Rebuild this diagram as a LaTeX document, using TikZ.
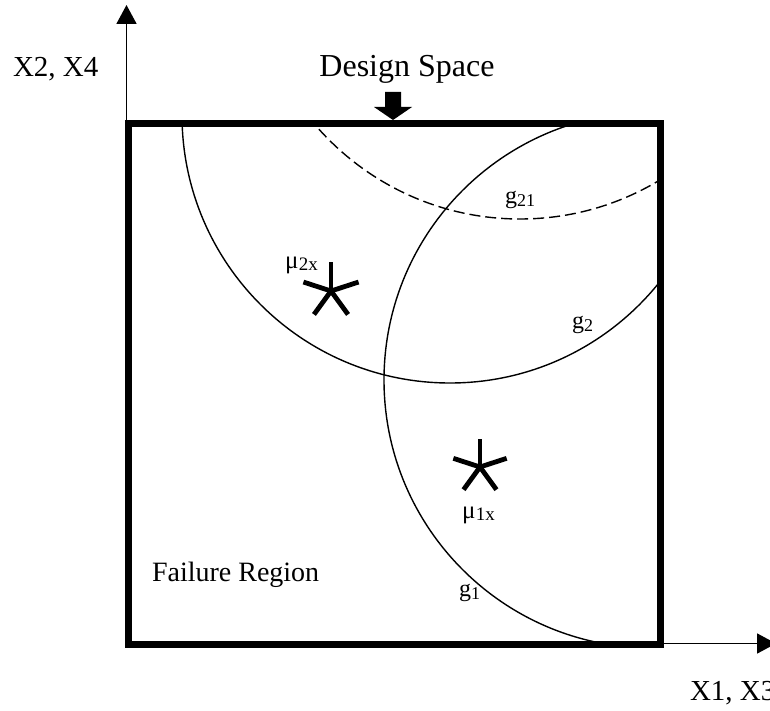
\documentclass[tikz,border=0pt]{standalone}
\usepackage{fontspec}
\setmainfont{Liberation Serif}
\usetikzlibrary{arrows.meta}
\newcommand{\glab}[1]{\fontsize{24}{24}\selectfont g\raisebox{-3pt}{\fontsize{18}{18}\selectfont #1}}
\newcommand{\mulab}[1]{\fontsize{25}{25}\selectfont μ\kern0.5pt\raisebox{-2pt}{\fontsize{19}{19}\selectfont #1}}
\begin{document}
\begin{tikzpicture}[x=1pt,y=-1pt,
  boxline/.style={line width=7pt, line join=miter},
  axisline/.style={line width=1.8pt, -{Triangle[width=20pt,length=19pt]}},
  curveline/.style={line width=1.4pt},
  dashline/.style={line width=1.4pt, dash pattern=on 11pt off 5pt},
  starline/.style={line width=4.8pt},
  txt/.style={inner sep=0pt, outer sep=0pt}]
\useasboundingbox (0,0) rectangle (770,711);
% axes
\coordinate (O) at (126.5,644);
\coordinate (Ytip) at (126.5,5);
\coordinate (Ox) at (128,643.5);
\coordinate (Xtip) at (776,643.5);
\draw[axisline] (O) -- (Ytip);
\draw[axisline] (Ox) -- (Xtip);
% curves clipped to the design space
\begin{scope}
  \clip (128,124) rectangle (660,644);
  \coordinate (c2) at (450,115);
  \coordinate (c1) at (652,380);
  \coordinate (c21) at (520,-51);
  \draw[curveline] (c2) circle[radius=268];
  \draw[curveline] (c1) circle[radius=268];
  \draw[dashline] (c21) circle[radius=270];
\end{scope}
% design space box
\draw[boxline] (128,124) rectangle (660,644);
% design space arrow
\coordinate (dsa) at (393,92);
\fill (dsa) ++(-8,0) -- ++(16,0) -- ++(0,15) -- ++(11,0) -- ++(-19,13) -- ++(-19,-13) -- ++(11,0) -- cycle;
% stars
\coordinate (s2) at (331,291);
\coordinate (s1) at (480,467);
\foreach \a in {-90,-18,-162,54,126} {
  \draw[starline] (s2) -- ++(\a:29);
  \draw[starline] (s1) -- ++(\a:28);
}
% texts
\node[txt, anchor=base west] (x24) at (13,77) {\fontsize{29}{29}\selectfont X2, X4};
\node[txt, anchor=base] (ds) at (407,77) {\fontsize{32}{32}\selectfont Design Space};
\node[txt, anchor=base west] (fr) at (152,581) {\fontsize{28}{28}\selectfont Failure Region};
\node[txt, anchor=base west] (x13) at (690,700) {\fontsize{29}{29}\selectfont X1, X3};
\node[txt, anchor=base west] (lg21) at (505,204) {\glab{21}};
\node[txt, anchor=base west] (lg2) at (572,328) {\glab{2}};
\node[txt, anchor=base west] (lg1) at (459,596) {\glab{1}};
\node[txt, anchor=base west] (lm2) at (285,268) {\mulab{2x}};
\node[txt, anchor=base west] (lm1) at (462,518) {\mulab{1x}};
\end{tikzpicture}
\end{document}
